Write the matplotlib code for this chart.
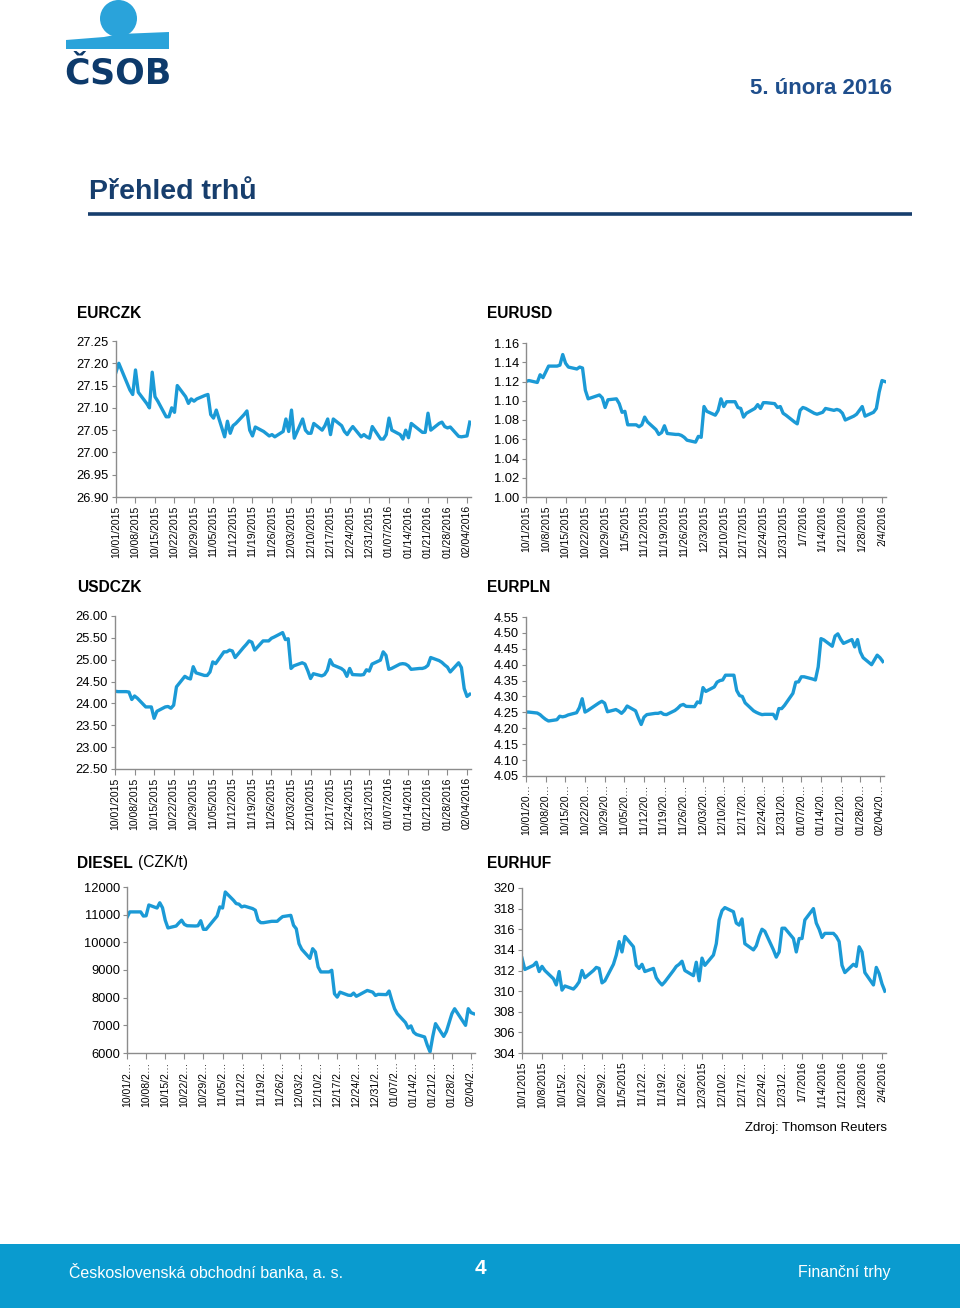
import matplotlib
matplotlib.use("Agg")
import matplotlib.pyplot as plt
import pandas as pd
from matplotlib.patches import Circle, Polygon, Rectangle

plt.rcParams['font.family'] = ['Liberation Sans', 'DejaVu Sans']

# business days shown in every panel
dates = pd.bdate_range('2015-10-01', '2016-02-05')
tick_dates = pd.date_range('2015-10-01', '2016-02-04', freq='7D')

eurczk = [27.18, 27.20, 27.155, 27.14, 27.13, 27.185, 27.135, 27.11, 27.10, 27.18, 27.125,
          27.115, 27.08, 27.08, 27.10, 27.09, 27.15, 27.125, 27.11, 27.12, 27.115, 27.12,
          27.128, 27.13, 27.085, 27.077, 27.095, 27.035, 27.07, 27.043, 27.06, 27.065, 27.085,
          27.093, 27.05, 27.037, 27.057, 27.047, 27.042, 27.037, 27.04, 27.035, 27.047,
          27.075, 27.047, 27.095, 27.032, 27.075, 27.05, 27.043, 27.043, 27.065, 27.05, 27.06,
          27.075, 27.04, 27.075, 27.06, 27.047, 27.04, 27.05, 27.058, 27.035, 27.04, 27.035, 27.032,
          27.058, 27.03, 27.03, 27.04, 27.077, 27.05, 27.04, 27.03, 27.05, 27.033, 27.065, 27.05,
          27.045, 27.045, 27.088, 27.05, 27.065, 27.068, 27.058, 27.055, 27.057,
          27.036, 27.035, 27.036, 27.037, 27.068]

eurusd = [1.120, 1.121, 1.119, 1.127, 1.124, 1.130, 1.136, 1.136, 1.137, 1.148, 1.139, 1.135,
          1.133, 1.135, 1.134, 1.111, 1.102, 1.105, 1.106, 1.103, 1.093, 1.101,
          1.102, 1.097, 1.088, 1.089, 1.075, 1.075, 1.073, 1.075, 1.083, 1.078, 1.070, 1.065,
          1.067, 1.074, 1.066, 1.065, 1.065, 1.064, 1.062, 1.059, 1.057,
          1.063, 1.062, 1.094, 1.089, 1.085, 1.090, 1.102, 1.094, 1.099, 1.099, 1.093, 1.092,
          1.083, 1.087, 1.092, 1.096, 1.092, 1.098, 1.098, 1.097, 1.093, 1.094, 1.087,
          1.085, 1.078, 1.076, 1.090, 1.093, 1.092, 1.087, 1.086, 1.087, 1.088, 1.092, 1.090,
          1.091, 1.090, 1.087, 1.080, 1.084, 1.086, 1.090, 1.094, 1.084,
          1.088, 1.092, 1.109, 1.121, 1.120]

usdczk = [24.28, 24.27, 24.27, 24.26, 24.09, 24.17, 24.12, 23.92, 23.92, 23.92, 23.66, 23.82,
          23.92, 23.93, 23.89, 23.96, 24.38, 24.62, 24.58, 24.56, 24.84, 24.70,
          24.64, 24.64, 24.72, 24.95, 24.91, 25.18, 25.18, 25.22, 25.20, 25.05, 25.28, 25.35,
          25.43, 25.40, 25.22, 25.43, 25.43, 25.43, 25.49, 25.52, 25.62,
          25.46, 25.48, 24.80, 24.86, 24.93, 24.90, 24.75, 24.57, 24.68, 24.63, 24.66, 24.76,
          25.00, 24.88, 24.80, 24.75, 24.62, 24.80, 24.66, 24.65, 24.66, 24.77, 24.74,
          24.90, 24.99, 25.18, 25.10, 24.78, 24.80, 24.90, 24.91, 24.90, 24.86, 24.78, 24.80,
          24.80, 24.82, 24.87, 25.05, 24.98, 24.94, 24.88, 24.83, 24.72,
          24.93, 24.82, 24.34, 24.16, 24.21]

eurpln = [4.251, 4.251, 4.248, 4.243, 4.235, 4.228, 4.223, 4.227, 4.238, 4.236, 4.238, 4.242,
          4.249, 4.265, 4.293, 4.251, 4.256, 4.274, 4.280, 4.285, 4.279, 4.252,
          4.259, 4.254, 4.247, 4.256, 4.270, 4.255, 4.232, 4.212, 4.235, 4.243, 4.247, 4.247,
          4.250, 4.244, 4.243, 4.256, 4.263, 4.272, 4.275, 4.269, 4.268,
          4.283, 4.280, 4.328, 4.316, 4.330, 4.345, 4.350, 4.352, 4.367, 4.367, 4.319, 4.303,
          4.300, 4.280, 4.255, 4.250, 4.246, 4.243, 4.244, 4.244, 4.230, 4.262, 4.262,
          4.272, 4.310, 4.345, 4.346, 4.362, 4.362, 4.355, 4.352, 4.393, 4.482, 4.478, 4.458,
          4.490, 4.497, 4.480, 4.467, 4.479, 4.456, 4.479, 4.440, 4.422,
          4.400, 4.415, 4.430, 4.422, 4.410]

diesel = [10900, 11100, 11100, 11100, 10950, 10960, 11350, 11240, 11430, 11250, 10800, 10520,
          10590, 10700, 10800, 10650, 10600, 10590, 10600, 10780, 10470, 10470,
          10830, 10950, 11280, 11240, 11820, 11520, 11400, 11380, 11280, 11310, 11220, 11160,
          10800, 10710, 10710, 10760, 10760, 10760, 10850, 10930, 10975,
          10615, 10490, 9950, 9750, 9420, 9770, 9650, 9110, 8930, 8930, 8990, 8140,
          8020, 8200, 8090, 8080, 8165, 8050, 8100, 8260, 8230, 8200, 8080,
          8120, 8110, 8240, 7900, 7600, 7420, 7100, 6900, 6980, 6750, 6670, 6580,
          6280, 6040, 6600, 7060, 6600, 6780, 7100, 7420, 7600,
          7150, 7000, 7600, 7460, 7420]

eurhuf = [313.2, 312.1, 312.5, 312.8, 311.9, 312.4, 312.0, 311.2, 310.6, 311.9, 310.1, 310.5,
          310.2, 310.5, 310.9, 312.0, 311.3, 312.0, 312.3, 312.2, 310.8, 311.0,
          312.6, 313.5, 314.8, 313.8, 315.3, 314.3, 312.5, 312.2, 312.6, 311.9, 312.2, 311.3,
          310.9, 310.6, 310.9, 312.0, 312.4, 312.6, 312.9, 312.0, 311.5,
          312.8, 311.0, 313.2, 312.5, 313.5, 314.6, 316.9, 317.8, 318.1, 317.7, 316.6, 316.4,
          317.0, 314.6, 314.0, 314.4, 315.3, 316.0, 315.8, 314.0, 313.3, 313.8, 316.1,
          316.1, 315.1, 313.8, 315.1, 315.1, 316.9, 318.0, 316.6, 316.0, 315.2, 315.6, 315.6,
          315.3, 314.8, 312.5, 311.8, 312.6, 312.4, 314.3, 313.8, 311.8,
          310.6, 312.3, 311.7, 310.7, 310.0]

labels_padded = [d.strftime('%m/%d/%Y') for d in tick_dates]
labels_plain = [f"{d.month}/{d.day}/{d.year}" for d in tick_dates]
labels_pln = [d.strftime('%m/%d/20') + '\u2026' for d in tick_dates]
labels_diesel = [d.strftime('%m/%d/2') + '\u2026' for d in tick_dates]
labels_huf = ['10/1/2015', '10/8/2015', '10/15/2\u2026', '10/22/2\u2026', '10/29/2\u2026',
              '11/5/2015', '11/12/2\u2026', '11/19/2\u2026', '11/26/2\u2026', '12/3/2015',
              '12/10/2\u2026', '12/17/2\u2026', '12/24/2\u2026', '12/31/2\u2026', '1/7/2016',
              '1/14/2016', '1/21/2016', '1/28/2016', '2/4/2016']

W, H = 960, 1308
LINE = '#1b9ad6'
NAVY = '#173e6d'
GRAY = '#8c8c8c'

fig = plt.figure(figsize=(W / 100, H / 100), dpi=100)

bg = fig.add_axes([0, 0, 1, 1])
bg.set_xlim(0, W)
bg.set_ylim(H, 0)
bg.axis('off')

# logo
bg.add_patch(Circle((118.5, 18.5), 18.5, color='#2aa3da', lw=0))
bg.add_patch(Polygon([(66, 49), (66, 40), (104, 37), (120, 34), (169, 32), (169, 49)],
                     closed=True, color='#2aa3da', lw=0))
bg.text(64, 84, 'ČSOB', fontsize=25, fontweight='bold', family='DejaVu Sans',
        color='#0d3a6b', va='baseline')

bg.text(892, 89, '5. února 2016', fontsize=16, fontweight='bold', color='#1f4e8c',
        ha='right', va='center')
bg.text(89, 192, 'Přehled trhů', fontsize=20.5, fontweight='bold', color=NAVY, va='center')
bg.plot([88, 912], [214, 214], color=NAVY, lw=2.6, solid_capstyle='butt')

bg.text(887, 1128, 'Zdroj: Thomson Reuters', fontsize=9.5, ha='right', va='center')

# footer
bg.add_patch(Rectangle((0, 1244), W, 64, color='#0a9bcf', lw=0))
bg.text(69, 1272, 'Československá obchodní banka, a. s.', fontsize=11.5, color='white',
        va='center')
bg.text(480, 1268, '4', fontsize=15, fontweight='bold', color='white', ha='center', va='center')
bg.text(891, 1272, 'Finanční trhy', fontsize=11.5, color='white', ha='right', va='center')

start = dates[0]


def panel(left, top, bottom, span, values, yticks, yfmt, labels):
    width = span * 127.5 / 126
    ax = fig.add_axes([left / W, 1 - bottom / H, width / W, (bottom - top) / H])
    ax.patch.set_alpha(0)
    ax.plot(dates, values, color=LINE, lw=2.4, solid_joinstyle='round')
    ax.set_xlim(start, start + pd.Timedelta(days=127.5))
    ax.set_ylim(yticks[0], yticks[-1])
    ax.set_yticks(yticks)
    ax.set_yticklabels([yfmt.format(v) for v in yticks])
    ax.set_xticks(tick_dates)
    ax.set_xticklabels(labels, rotation=90, fontsize=7.5)
    for s in ['top', 'right']:
        ax.spines[s].set_visible(False)
    for s in ['left', 'bottom']:
        ax.spines[s].set_color(GRAY)
        ax.spines[s].set_linewidth(1.0)
    ax.tick_params(axis='y', length=3, pad=2, labelsize=9.3, color=GRAY)
    ax.tick_params(axis='x', length=4, pad=2, color=GRAY)
    return ax


panel(116, 341, 497, 351, eurczk,
      [26.90, 26.95, 27.00, 27.05, 27.10, 27.15, 27.20, 27.25], '{:.2f}', labels_padded)
panel(526, 343, 497, 356, eurusd,
      [1.00, 1.02, 1.04, 1.06, 1.08, 1.10, 1.12, 1.14, 1.16], '{:.2f}', labels_plain)
panel(115, 616, 769, 352, usdczk,
      [22.5, 23.0, 23.5, 24.0, 24.5, 25.0, 25.5, 26.0], '{:.2f}', labels_padded)
panel(526, 617, 776, 354, eurpln,
      [4.05, 4.10, 4.15, 4.20, 4.25, 4.30, 4.35, 4.40, 4.45, 4.50, 4.55], '{:.2f}', labels_pln)
panel(127, 887, 1053, 344, diesel,
      [6000, 7000, 8000, 9000, 10000, 11000, 12000], '{:.0f}', labels_diesel)
panel(522, 888, 1053, 360, eurhuf,
      [304, 306, 308, 310, 312, 314, 316, 318, 320], '{:.0f}', labels_huf)

# panel titles
for x, y, name in [(77, 313, 'EURCZK'), (487, 313, 'EURUSD'), (77, 588, 'USDCZK'),
                   (487, 588, 'EURPLN'), (77, 863, 'DIESEL'), (487, 863, 'EURHUF')]:
    bg.text(x, y, name, fontsize=11.2, fontweight='bold', va='center')
bg.text(138, 863, '(CZK/t)', fontsize=11.2, va='center')

fig.savefig('out.png', dpi=100)
